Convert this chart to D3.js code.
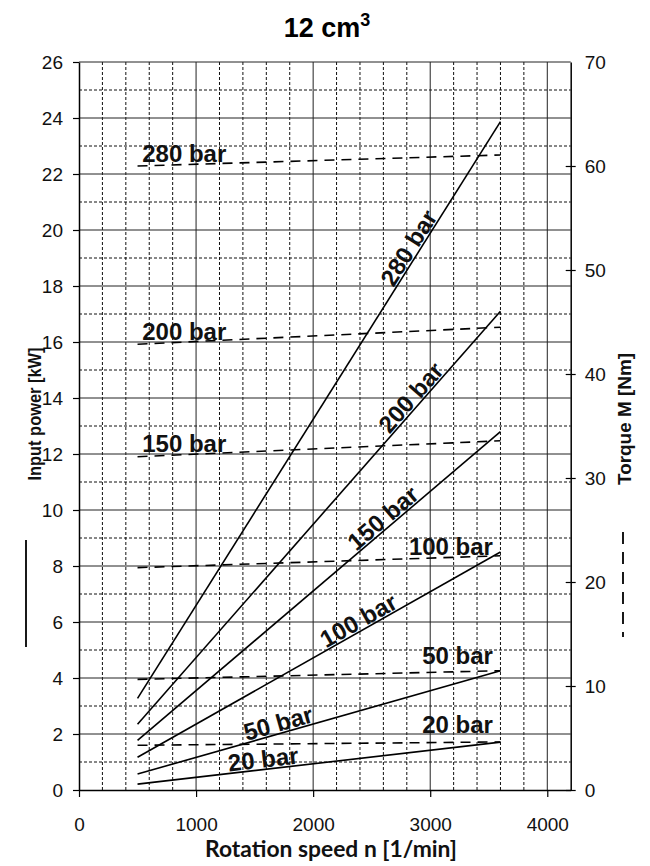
<!DOCTYPE html>
<html>
<head>
<meta charset="utf-8">
<script src="https://cdn.jsdelivr.net/npm/d3@7"></script>
<style>
  html, body { margin: 0; padding: 0; background: #fff; }
  svg { display: block; }
</style>
</head>
<body>
<svg id="chart" width="650" height="866"></svg>
<script>
// ---- Data ----
const pressures = ["20 bar", "50 bar", "100 bar", "150 bar", "200 bar", "280 bar"];
const speedRange = [500, 3600];                       // rpm, start / end of each curve
const powerStart = [0.21, 0.57, 1.17, 1.77, 2.35, 3.27]; // kW at 500 rpm
const powerEnd   = [1.71, 4.26, 8.50, 12.80, 17.10, 23.87]; // kW at 3600 rpm
const torqueStart = [4.30, 10.64, 21.38, 32.05, 42.86, 60.00]; // Nm at 500 rpm
const torqueEnd   = [4.62, 11.47, 22.52, 33.58, 44.50, 61.06]; // Nm at 3600 rpm

// label anchors (in data units)
const powerLabelSpeed = [1583, 1726, 2430, 2653, 2901, 2892];
const torqueLabelSpeed = [3536, 3536, 3536, 540, 540, 540];
const torqueLabelValue = [5.48, 12.12, 22.60, 32.53, 43.27, 60.38];
const torqueLabelAnchor = ["end", "end", "end", "start", "start", "start"];

const xTicks = [0, 1000, 2000, 3000, 4000];
const yLeftTicks = d3.range(0, 27, 2);
const yRightTicks = [0, 10, 20, 30, 40, 50, 60, 70];

const titleMain = "12 cm";
const titleSup = "3";
const xTitle = "Rotation speed n [1/min]";
const yLeftTitle = "Input power [kW]";
const yRightTitle = "Torque M [Nm]";

// ---- Layout ----
const svg = d3.select("#chart");
const L = 79, R = 570.7, T = 62, B = 790;
const x = d3.scaleLinear().domain([0, 4200]).range([L, R]);
const yL = d3.scaleLinear().domain([0, 26]).range([B, T]);
const yR = d3.scaleLinear().domain([0, 70]).range([B, T]);

const arial = "'Liberation Sans', Arial, sans-serif";

// ---- Grid ----
const grid = svg.append("g");
grid.selectAll(".vminor").data(d3.range(200, 4200, 200).filter(v => v % 1000 !== 0))
  .join("line")
  .attr("x1", d => x(d)).attr("x2", d => x(d))
  .attr("y1", T).attr("y2", B)
  .attr("stroke", "#111").attr("stroke-width", 1)
  .attr("stroke-dasharray", "3,2");
grid.selectAll(".hminor").data(d3.range(1, 26, 2))
  .join("line")
  .attr("x1", L).attr("x2", R)
  .attr("y1", d => yL(d)).attr("y2", d => yL(d))
  .attr("stroke", "#111").attr("stroke-width", 1)
  .attr("stroke-dasharray", "3,2");
grid.selectAll(".vmajor").data([1000, 2000, 3000, 4000])
  .join("line")
  .attr("x1", d => x(d)).attr("x2", d => x(d))
  .attr("y1", T).attr("y2", B)
  .attr("stroke", "#222").attr("stroke-width", 1);
grid.selectAll(".hmajor").data(d3.range(2, 27, 2))
  .join("line")
  .attr("x1", L).attr("x2", R)
  .attr("y1", d => yL(d)).attr("y2", d => yL(d))
  .attr("stroke", "#222").attr("stroke-width", 1);

// ---- Axes ----
const axisStyle = g => {
  g.attr("font-family", arial);
  g.selectAll("path").attr("stroke", "#000").attr("stroke-width", 1.5);
  g.selectAll("line").attr("stroke", "#000").attr("stroke-width", 1.2);
  g.selectAll("text").attr("font-family", arial).attr("font-size", 19).attr("fill", "#111");
};
const fmt = d3.format("d");

const xAxis = svg.append("g").attr("transform", `translate(0,${B})`)
  .call(d3.axisBottom(x).tickValues(xTicks).tickFormat(fmt).tickSize(7).tickSizeOuter(0).tickPadding(21));
xAxis.call(axisStyle);

const yAxisL = svg.append("g").attr("transform", `translate(${L},0)`)
  .call(d3.axisLeft(yL).tickValues(yLeftTicks).tickFormat(fmt).tickSize(6).tickSizeOuter(0).tickPadding(10));
yAxisL.call(axisStyle);

const yAxisR = svg.append("g").attr("transform", `translate(${R},0)`)
  .call(d3.axisRight(yR).tickValues(yRightTicks).tickFormat(fmt).tickSize(5).tickSizeOuter(0).tickPadding(10));
yAxisR.call(axisStyle);
yAxisR.selectAll(".tick line").attr("x1", -5).attr("x2", 5);
yAxisR.selectAll(".tick text").attr("x", 14);
yAxisR.select(".tick:last-of-type line").remove();

// ---- Series ----
const series = pressures.map((p, i) => ({
  name: p,
  power: [[speedRange[0], powerStart[i]], [speedRange[1], powerEnd[i]]],
  torque: [[speedRange[0], torqueStart[i]], [speedRange[1], torqueEnd[i]]],
  labelN: powerLabelSpeed[i],
  tN: torqueLabelSpeed[i], tV: torqueLabelValue[i], tA: torqueLabelAnchor[i]
}));

const powerLine = d3.line().x(d => x(d[0])).y(d => yL(d[1]));
const torqueLine = d3.line().x(d => x(d[0])).y(d => yR(d[1]));

svg.append("g").selectAll("path.torque").data(series).join("path")
  .attr("d", d => torqueLine(d.torque))
  .attr("fill", "none").attr("stroke", "#000").attr("stroke-width", 1.6)
  .attr("stroke-dasharray", "10,7");

svg.append("g").selectAll("path.power").data(series).join("path")
  .attr("d", d => powerLine(d.power))
  .attr("fill", "none").attr("stroke", "#000").attr("stroke-width", 1.6);

// ---- Labels on solid (power) lines, rotated along the line ----
svg.append("g").selectAll("text").data(series).join("text")
  .attr("transform", d => {
    const [a, b] = d.power;
    const x0 = x(a[0]), y0 = yL(a[1]), x1 = x(b[0]), y1 = yL(b[1]);
    const t = (d.labelN - a[0]) / (b[0] - a[0]);
    const px = x0 + (x1 - x0) * t, py = y0 + (y1 - y0) * t;
    const ang = Math.atan2(y1 - y0, x1 - x0) * 180 / Math.PI;
    return `translate(${px},${py}) rotate(${ang})`;
  })
  .attr("y", -2)
  .attr("text-anchor", "middle")
  .attr("font-family", arial).attr("font-weight", "bold").attr("font-size", 24)
  .attr("fill", "#111")
  .text(d => d.name);

// ---- Labels on dashed (torque) lines ----
svg.append("g").selectAll("text").data(series).join("text")
  .attr("x", d => x(d.tN)).attr("y", d => yR(d.tV))
  .attr("text-anchor", d => d.tA)
  .attr("font-family", arial).attr("font-weight", "bold").attr("font-size", 24)
  .attr("fill", "#111")
  .text(d => d.name);

// ---- Title ----
const title = svg.append("text")
  .attr("x", 327).attr("y", 37).attr("text-anchor", "middle")
  .attr("font-family", arial).attr("font-weight", "bold").attr("font-size", 27)
  .attr("fill", "#000");
title.append("tspan").text(titleMain);
title.append("tspan").attr("dy", -11).attr("font-size", 18).text(titleSup);

// ---- Axis titles ----
svg.append("text")
  .attr("x", 331).attr("y", 857).attr("text-anchor", "middle")
  .attr("font-family", "Lato, 'Open Sans', sans-serif").attr("font-weight", "bold").attr("font-size", 22)
  .attr("textLength", 252).attr("lengthAdjust", "spacingAndGlyphs")
  .attr("fill", "#111")
  .text(xTitle);

svg.append("text")
  .attr("transform", "translate(41,414) rotate(-90)")
  .attr("text-anchor", "middle")
  .attr("font-family", arial).attr("font-weight", "bold").attr("font-size", 18)
  .attr("textLength", 133).attr("lengthAdjust", "spacingAndGlyphs")
  .attr("fill", "#111")
  .text(yLeftTitle);

svg.append("text")
  .attr("transform", "translate(631,419) rotate(-90)")
  .attr("text-anchor", "middle")
  .attr("font-family", arial).attr("font-weight", "bold").attr("font-size", 18)
  .attr("textLength", 132).attr("lengthAdjust", "spacingAndGlyphs")
  .attr("fill", "#111")
  .text(yRightTitle);

// ---- Line-style legend marks next to the axis titles ----
svg.append("line")
  .attr("x1", 26).attr("x2", 26).attr("y1", 540).attr("y2", 647)
  .attr("stroke", "#000").attr("stroke-width", 1.8);
svg.append("line")
  .attr("x1", 623).attr("x2", 623).attr("y1", 532).attr("y2", 637)
  .attr("stroke", "#000").attr("stroke-width", 1.8)
  .attr("stroke-dasharray", "12,8");
</script>
</body>
</html>
